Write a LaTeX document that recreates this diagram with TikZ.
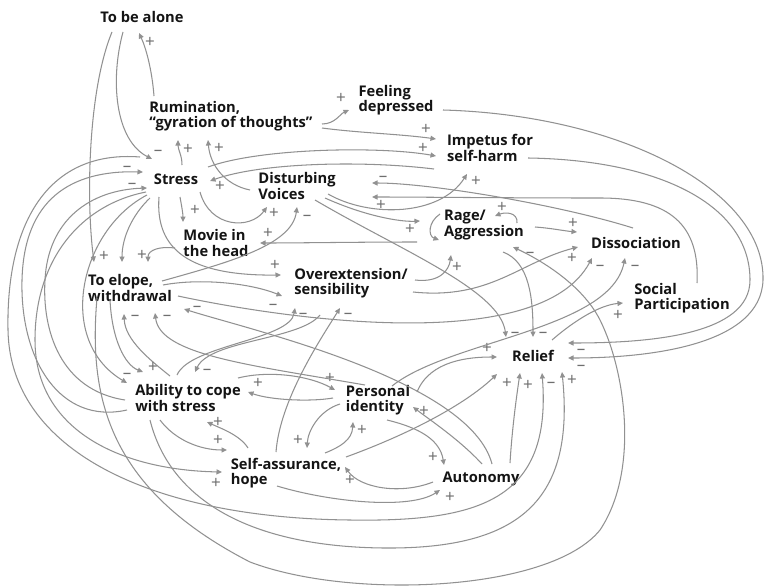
\documentclass[tikz,border=0pt]{standalone}
\usepackage{fontspec}
\setmainfont{Open Sans}
\usetikzlibrary{arrows.meta,calc}
\definecolor{lc}{RGB}{145,145,145}
\definecolor{pc}{RGB}{110,110,110}
\definecolor{tc}{RGB}{20,20,20}
\begin{document}
\begin{tikzpicture}[x=1pt,y=-1pt,
 txt/.style={font=\fontsize{14.7}{15.5}\selectfont\bfseries, text=tc, align=left, inner sep=0pt},
 ar/.style={draw=lc, line width=1.05pt, -{Triangle[length=5.5pt,width=5pt]}},
 pl/.style={font=\fontsize{17}{17}\selectfont, text=pc, inner sep=0pt, text height=7pt, text depth=0pt, yshift=-2pt}]
\fill[white] (0,0) rectangle (770,586);
\useasboundingbox (0,0) rectangle (770,586);
% nodes
\node[txt] (tba) at (142,17) {To be alone};
\node[txt] (rum) at (231,116) {Rumination,\\“gyration of thoughts”};
\node[txt] (fdp) at (396,100) {Feeling\\depressed};
\node[txt] (imp) at (490,148) {Impetus for\\self-harm};
\node[txt] (str) at (176,179) {Stress};
\node[txt] (dv) at (297,186) {Disturbing\\Voices};
\node[txt] (mov) at (216,243) {Movie in\\the head};
\node[txt] (rag) at (484,225) {Rage/\\Aggression};
\node[txt] (dis) at (636,243) {Dissociation};
\node[txt] (elo) at (130,288) {To elope,\\withdrawal};
\node[txt] (ove) at (351,283) {Overextension/\\sensibility};
\node[txt] (soc) at (682,298) {Social\\Participation};
\node[txt] (rel) at (533,356) {Relief};
\node[txt] (abi) at (188,398) {Ability to cope\\with stress};
\node[txt] (per) at (378,400) {Personal\\identity};
\node[txt] (sa) at (286,473) {Self-assurance,\\hope};
\node[txt] (aut) at (481,479) {Autonomy};
% connectors
\draw[ar] ($(rum)+(-77,-20)$) .. controls (152,70) and (146,48) .. ($(tba)+(-3,16)$) node[pl] at (150,42) {+};
\draw[ar] ($(tba)+(-19,15)$) .. controls (110,80) and (115,140) .. ($(str)+(-24,-20)$) node[pl] at (158,150) {–};
\draw[ar] ($(tba)+(-30,15)$) .. controls (88,90) and (86,200) .. ($(elo)+(-36,-26)$) node[pl] at (104,256) {+};
\draw[ar] ($(str)+(6,-14)$) .. controls (182,155) and (178,150) .. ($(rum)+(-53,24)$) node[pl] at (188,149) {+};
\draw[ar] ($(dv)+(-47,4)$) .. controls (225,185) and (210,165) .. ($(rum)+(-23,24)$) node[pl] at (219,148) {+};
\draw[ar] ($(rum)+(91,8)$) .. controls (335,124) and (340,114) .. ($(fdp)+(-47,10)$) node[pl] at (341,98) {+};
\draw[ar] ($(rum)+(91,12)$) .. controls (360,133) and (400,134) .. ($(imp)+(-54,-9)$) node[pl] at (426,129) {+};
\draw[ar] ($(str)+(32,-12)$) .. controls (260,148) and (380,146) .. ($(imp)+(-54,8)$) node[pl] at (423,148) {+};
\draw[ar] ($(imp)+(-56,21)$) .. controls (360,160) and (260,163) .. ($(str)+(34,2)$) node[pl] at (220,186) {+};
\draw[ar] ($(dv)+(31,8)$) .. controls (370,218) and (440,216) .. ($(imp)+(-23,26)$) node[pl] at (476,181) {+};
\draw[ar] ($(imp)+(38,10)$) .. controls (660,160) and (750,205) .. (750,280) .. controls (750,335) and (650,343) .. ($(rel)+(35,-13)$) node[pl] at (581,349) {–};
\draw[ar] ($(fdp)+(47,10)$) .. controls (620,115) and (765,190) .. (763,280) .. controls (761,345) and (650,358) .. ($(rel)+(35,2)$) node[pl] at (581,365) {–};
\draw[ar] ($(dis)+(-3,-15)$) .. controls (560,205) and (430,183) .. ($(dv)+(75,-3)$) node[pl] at (383,176) {–};
\draw[ar] ($(soc)+(15,-15)$) .. controls (700,225) and (670,198) .. (600,198) .. controls (500,198) and (420,197) .. ($(dv)+(75,11)$) node[pl] at (381,205) {+};
\draw[ar] ($(str)+(24,13)$) .. controls (210,228) and (250,230) .. ($(dv)+(-30,21)$) node[pl] at (274,213) {+};
\draw[ar] ($(elo)+(32,-7)$) .. controls (230,262) and (292,245) .. ($(dv)+(0,21)$) node[pl] at (307,215) {–};
\draw[ar] ($(str)+(4,18)$) .. controls (182,208) and (183,214) .. ($(mov)+(-33,-21)$) node[pl] at (195,210) {+};
\draw[ar] ($(rag)+(-67,17)$) .. controls (360,242) and (300,243) .. ($(mov)+(44,0)$) node[pl] at (268,233) {+};
\draw[ar] ($(mov)+(-41,5)$) .. controls (160,246) and (148,250) .. ($(elo)+(18,-26)$) node[pl] at (142,255) {+};
\draw[ar] ($(str)+(-26,19)$) .. controls (132,215) and (122,238) .. ($(elo)+(-8,-26)$);
\draw[ar] ($(str)+(-17,18)$) .. controls (155,250) and (190,276) .. ($(ove)+(-70,-8)$) node[pl] at (275,265) {+};
\draw[ar] ($(elo)+(33,-3)$) .. controls (200,278) and (250,283) .. ($(ove)+(-69,13)$) node[pl] at (273,304) {–};
\draw[ar] ($(ove)+(64,-3)$) .. controls (440,283) and (449,270) .. ($(rag)+(-33,30)$) node[pl] at (457,267) {+};
\draw[ar] ($(ove)+(62,9)$) .. controls (490,300) and (520,262) .. ($(dis)+(-58,4)$) node[pl] at (572,258) {+};
\draw[ar] ($(abi)+(-11,-23)$) .. controls (190,345) and (290,340) .. ($(ove)+(-56,25)$) node[pl] at (303,313) {–};
\draw[ar] ($(sa)+(-10,-21)$) .. controls (280,400) and (320,340) .. ($(ove)+(-11,25)$) node[pl] at (348,313) {–};
\draw[ar] ($(ove)+(-31,32)$) .. controls (300,340) and (210,340) .. ($(abi)+(7,-26)$) node[pl] at (207,369) {–};
\draw[ar] ($(rag)+(51,2)$) .. controls (550,228) and (565,231) .. ($(dis)+(-59,-11)$) node[pl] at (573,223) {+};
\draw[ar] ($(dv)+(28,12)$) .. controls (365,216) and (400,222) .. ($(rag)+(-64,-4)$) node[pl] at (410,229) {+};
\draw[ar] ($(rag)+(-44,-11)$) .. controls (428,222) and (428,236) .. ($(rag)+(-45,15)$);
\draw[ar] ($(rag)+(33,-2)$) .. controls (518,212) and (505,212) .. ($(rag)+(11,-9)$) node[pl] at (502,207) {+};
\draw[ar] ($(rag)+(19,27)$) .. controls (530,262) and (533,300) .. ($(rel)+(0,-19)$) node[pl] at (543,332) {–};
\draw[ar] ($(dv)+(18,14)$) .. controls (400,250) and (500,290) .. ($(rel)+(-27,-19)$) node[pl] at (515,332) {–};
\draw[ar] ($(per)+(39,-8)$) .. controls (430,360) and (470,357) .. ($(rel)+(-36,1)$) node[pl] at (487,348) {+};
\draw[ar] ($(rel)+(19,-16)$) .. controls (575,320) and (600,305) .. ($(soc)+(-59,5)$) node[pl] at (618,315) {+};
\draw[ar] ($(elo)+(48,8)$) .. controls (290,320) and (540,355) .. ($(dis)+(-44,15)$) node[pl] at (600,265) {–};
\draw[ar] ($(per)+(14,-14)$) .. controls (450,340) and (610,330) .. ($(dis)+(-11,15)$) node[pl] at (635,265) {–};
\draw[ar] ($(abi)+(50,-20)$) .. controls (270,370) and (310,376) .. ($(per)+(-43,-10)$) node[pl] at (330,378) {+};
\draw[ar] ($(per)+(-45,-2)$) .. controls (310,402) and (270,400) .. ($(abi)+(60,-6)$) node[pl] at (258,383) {+};
\draw[ar] ($(per)+(-38,4)$) .. controls (320,410) and (308,430) .. ($(sa)+(21,-25)$) node[pl] at (298,440) {+};
\draw[ar] ($(sa)+(39,-20)$) .. controls (340,447) and (352,440) .. ($(per)+(-25,22)$) node[pl] at (362,430) {+};
\draw[ar] ($(per)+(9,20)$) .. controls (420,428) and (440,440) .. ($(aut)+(-37,-14)$) node[pl] at (433,457) {+};
\draw[ar] ($(aut)+(1,-15)$) .. controls (460,440) and (430,420) .. ($(per)+(35,7)$) node[pl] at (424,411) {+};
\draw[ar] ($(aut)+(11,-15)$) .. controls (470,380) and (250,330) .. ($(elo)+(54,21)$) node[pl] at (197,306) {–};
\draw[ar] ($(per)+(-13,-15)$) .. controls (250,365) and (160,355) .. ($(elo)+(25,25)$) node[pl] at (167,315) {–};
\draw[ar] ($(abi)+(-18,-22)$) .. controls (150,360) and (125,340) .. ($(elo)+(-6,26)$) node[pl] at (135,315) {–};
\draw[ar] ($(elo)+(-20,12)$) .. controls (112,340) and (125,365) .. ($(abi)+(-45,-26)$) node[pl] at (153,367) {+};
\draw[ar] ($(str)+(-29,16)$) .. controls (80,230) and (55,340) .. ($(abi)+(-61,-15)$) node[pl] at (127,373) {–};
\draw[ar] ($(abi)+(-63,2)$) .. controls (60,390) and (42,330) .. (45,280) .. controls (48,220) and (90,190) .. ($(str)+(-29,9)$) node[pl] at (132,183) {–};
\draw[ar] ($(abi)+(-61,12)$) .. controls (60,425) and (20,360) .. (22,280) .. controls (24,200) and (70,170) .. ($(str)+(-33,-7)$) node[pl] at (127,166) {–};
\draw[ar] ($(str)+(-30,13)$) .. controls (80,205) and (35,260) .. (35,340) .. controls (35,430) and (120,470) .. ($(sa)+(-64,-1)$) node[pl] at (216,483) {+};
\draw[ar] ($(str)+(-36,-22)$) .. controls (50,150) and (6,220) .. (8,330) .. controls (10,450) and (150,518) .. (350,520) .. controls (480,522) and (552,500) .. ($(rel)+(9,17)$) node[pl] at (551,382) {–};
\draw[ar] ($(abi)+(-38,22)$) .. controls (170,500) and (250,547) .. (385,548) .. controls (520,549) and (575,500) .. ($(rel)+(29,16)$) node[pl] at (572,380) {+};
\draw[ar] ($(elo)+(-33,10)$) .. controls (88,400) and (110,490) .. (250,562) .. controls (350,600) and (550,592) .. (600,530) .. controls (640,470) and (625,370) .. (600,320) .. controls (580,280) and (530,255) .. ($(rag)+(29,22)$) node[pl] at (530,252) {–};
\draw[ar] ($(abi)+(-28,22)$) .. controls (175,440) and (200,450) .. ($(sa)+(-59,-23)$) node[pl] at (218,440) {+};
\draw[ar] ($(sa)+(-38,-25)$) .. controls (240,435) and (220,428) .. ($(abi)+(19,24)$) node[pl] at (218,422) {+};
\draw[ar] ($(sa)+(-9,13)$) .. controls (330,502) and (410,510) .. ($(aut)+(-41,11)$) node[pl] at (450,497) {+};
\draw[ar] ($(aut)+(-48,3)$) .. controls (400,495) and (360,488) .. ($(sa)+(59,-6)$) node[pl] at (350,480) {+};
\draw[ar] ($(sa)+(60,-16)$) .. controls (420,430) and (470,400) .. ($(rel)+(-36,18)$) node[pl] at (507,383) {+};
\draw[ar] ($(aut)+(29,-16)$) .. controls (512,430) and (516,400) .. ($(rel)+(-13,17)$) node[pl] at (528,385) {+};
\end{tikzpicture}
\end{document}
